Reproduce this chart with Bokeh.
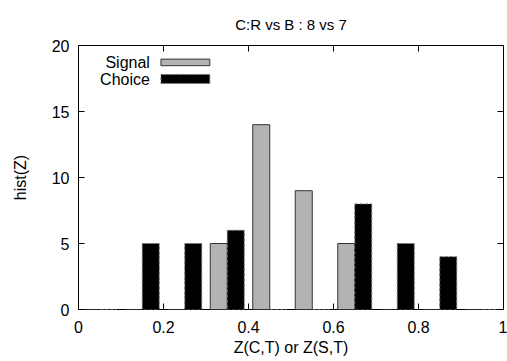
from bokeh.plotting import figure
from bokeh.models import LinearAxis, FixedTicker, Range1d, Label
from bokeh.embed import file_html
from bokeh.resources import INLINE

# ---- data ----
bin_centers = [0.05, 0.15, 0.25, 0.35, 0.45, 0.55, 0.65, 0.75, 0.85, 0.95]
signal_counts = [0, 0, 0, 5, 14, 9, 5, 0, 0, 0]
choice_counts = [0, 5, 5, 6, 0, 0, 8, 5, 4, 0]
signal_offset = -0.02
choice_offset = 0.02
bar_width = 0.04
x_ticks = [0, 0.2, 0.4, 0.6, 0.8, 1.0]
x_tick_labels = {0: "0", 0.2: "0.2", 0.4: "0.4", 0.6: "0.6", 0.8: "0.8", 1.0: "1"}
y_ticks = [0, 5, 10, 15, 20]
title_text = "C:R vs B : 8 vs 7"
x_label = "Z(C,T) or Z(S,T)"
y_label = "hist(Z)"

FONT = "Liberation Sans"
FS = "16px"

p = figure(width=507, height=361, output_backend="svg", toolbar_location=None,
           x_range=Range1d(0, 1), y_range=Range1d(0, 20),
           min_border_left=78, min_border_right=4, min_border_top=44, min_border_bottom=52,
           x_axis_location=None, y_axis_location=None)
p.grid.visible = False
p.outline_line_color = "black"
p.outline_line_width = 1
p.background_fill_color = "white"
p.border_fill_color = "white"

p.title.text = title_text
p.title.align = "center"
p.title.text_font = FONT
p.title.text_font_size = "15px"
p.title.text_font_style = "normal"
p.title.text_color = "black"
p.title.standoff = 26

def make_axis(ticks, labels_visible, overrides=None):
    ax = LinearAxis(ticker=FixedTicker(ticks=ticks))
    ax.axis_line_color = None
    ax.major_tick_in = 6
    ax.major_tick_out = 0
    ax.minor_tick_line_color = None
    ax.major_tick_line_color = "black"
    ax.major_label_text_font = FONT
    ax.major_label_text_font_size = FS
    ax.major_label_text_color = "black"
    if overrides:
        ax.major_label_overrides = overrides
    if not labels_visible:
        ax.major_label_text_color = None
        ax.major_label_text_font_size = "0px"
        ax.major_label_standoff = 0
    return ax

xb = make_axis(x_ticks, True, x_tick_labels)
xb.major_label_standoff = 11
xb.axis_label = x_label
xb.axis_label_text_font = FONT
xb.axis_label_text_font_size = FS
xb.axis_label_text_font_style = "normal"
xb.axis_label_text_color = "black"
xb.axis_label_standoff = 3
p.add_layout(xb, "below")

yl = make_axis(y_ticks, True)
yl.major_label_standoff = 9
yl.axis_label = y_label
yl.axis_label_text_font = FONT
yl.axis_label_text_font_size = FS
yl.axis_label_text_font_style = "normal"
yl.axis_label_text_color = "black"
yl.axis_label_standoff = 20
p.add_layout(yl, "left")

xt = make_axis(x_ticks, False)
p.add_layout(xt, "above")
yr = make_axis(y_ticks, False)
p.add_layout(yr, "right")

# ---- bars ----
sig_x = [c + signal_offset for c in bin_centers]
cho_x = [c + choice_offset for c in bin_centers]
p.quad(left=[x - bar_width / 2 for x in sig_x], right=[x + bar_width / 2 for x in sig_x],
       bottom=0, top=signal_counts, fill_color="#b3b3b3", line_color="#333333", line_width=1)
p.quad(left=[x - bar_width / 2 for x in cho_x], right=[x + bar_width / 2 for x in cho_x],
       bottom=0, top=choice_counts, fill_color="black", line_color="#777777",
       line_width=1, line_dash="3 2")

# ---- legend (gnuplot style: text then sample box) ----
leg_text_x = 0.168
leg_box_l, leg_box_r = 0.194, 0.309
p.quad(left=[leg_box_l], right=[leg_box_r], bottom=[18.47], top=[18.97],
       fill_color="#b3b3b3", line_color="#333333", line_width=1)
p.quad(left=[leg_box_l], right=[leg_box_r], bottom=[17.13], top=[17.81],
       fill_color="black", line_color="#777777", line_width=1, line_dash="3 2")
for txt, yy in [("Signal", 18.72), ("Choice", 17.43)]:
    p.add_layout(Label(x=leg_text_x, y=yy, text=txt, text_align="right",
                       text_baseline="middle", text_font=FONT, text_font_size=FS,
                       text_color="black"))

open("out.html", "w").write(file_html(p, INLINE))
